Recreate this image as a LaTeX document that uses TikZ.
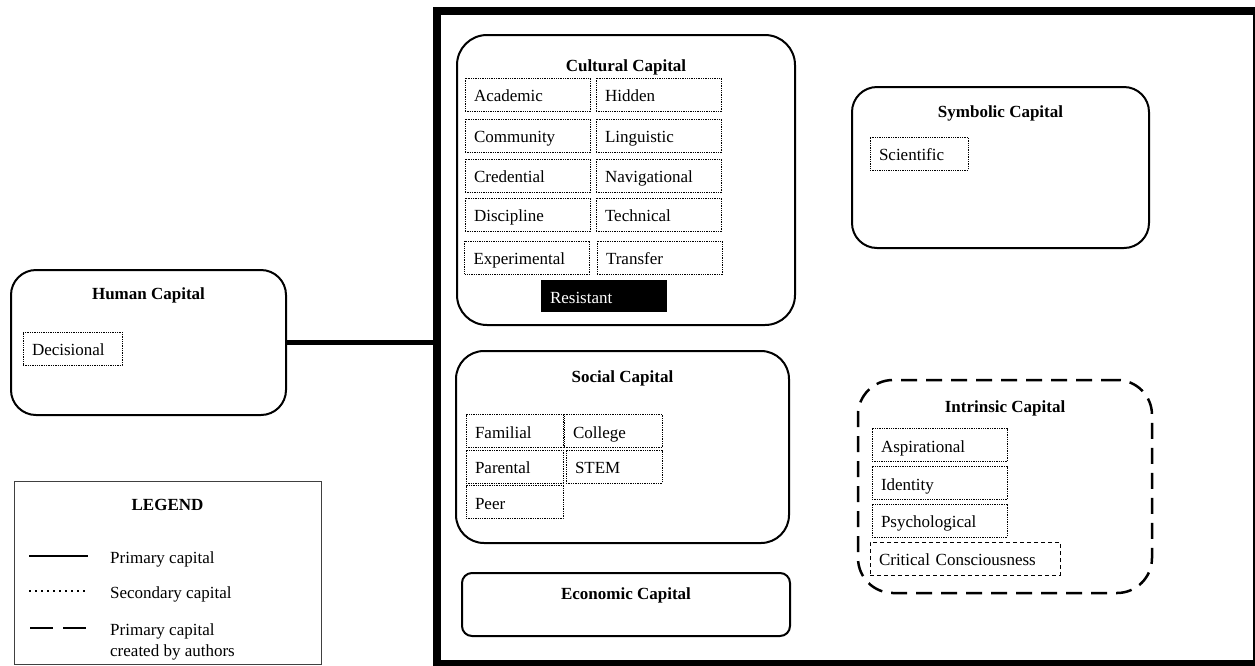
\documentclass[tikz,border=0pt]{standalone}
\usepackage{fontspec}
\setmainfont{Liberation Serif}
\begin{document}
\begin{tikzpicture}[x=1pt,y=-1pt,
  every node/.style={font=\fontsize{17}{21}\selectfont},
  capbox/.style={draw, line width=2pt, rounded corners=#1, inner sep=0pt},
  capbox/.default=28pt,
  title/.style={font=\fontsize{17}{21}\selectfont\bfseries, inner sep=0pt},
  cell/.style={draw, line width=0.9pt, dash pattern=on 1.3pt off 1pt, inner xsep=9pt, inner ysep=0pt,
    align=left, minimum height=33pt, text height=15pt, text depth=1pt},
  dcell/.style={cell, dash pattern=on 4pt off 3pt},
  blackcell/.style={fill=black, text=white, inner xsep=9pt, inner ysep=0pt, align=left, minimum height=32pt,
    text height=15pt, text depth=1pt},
  legline/.style={line width=2pt}
]
\useasboundingbox (0,0) rectangle (1255,665);
\begin{scope}
\clip (0,0) rectangle (1255,665);
% main frame
\node[draw, line width=8pt, inner sep=0pt, minimum width=820pt, minimum height=653pt] (frame) at (847,337.5) {};
\end{scope}

% Cultural capital
\node[capbox=30pt, minimum width=338pt, minimum height=290pt] (cult) at (626,180) {};
\node[title] (cultT) at (626,67) {Cultural Capital};
\node[cell, text width=107pt] (academic) at (527.5,94.5) {Academic};
\node[cell, text width=107pt] (hidden) at (658.5,94.5) {Hidden};
\node[cell, text width=107pt] (community) at (527.5,135.5) {Community};
\node[cell, text width=107pt] (linguistic) at (658.5,135.5) {Linguistic};
\node[cell, text width=107pt] (credential) at (527.5,175.5) {Credential};
\node[cell, text width=107pt] (navigational) at (658.5,175.5) {Navigational};
\node[cell, text width=107pt] (discipline) at (527.5,214.5) {Discipline};
\node[cell, text width=107pt] (technical) at (658.5,214.5) {Technical};
\node[cell, text width=107pt] (experimental) at (527,257.5) {Experimental};
\node[cell, text width=107pt] (transfer) at (659.5,257.5) {Transfer};
\node[blackcell, text width=108pt] (resistant) at (604,296) {Resistant};

% Social capital
\node[capbox=28pt, minimum width=333pt, minimum height=192pt] (social) at (622.5,447) {};
\node[title] (socialT) at (622.5,378) {Social Capital};
\node[cell, text width=79pt] (familial) at (514.5,431) {Familial};
\node[cell, text width=80pt] (college) at (613,431) {College};
\node[cell, text width=79pt] (parental) at (514.5,466.5) {Parental};
\node[cell, text width=78pt] (stem) at (614,466.5) {STEM};
\node[cell, text width=79pt] (peer) at (514.5,502) {Peer};

% Economic capital
\node[capbox=10pt, minimum width=328pt, minimum height=63pt] (econ) at (626,604.5) {};
\node[title] (econT) at (626,595) {Economic Capital};

% Symbolic capital
\node[capbox=25pt, minimum width=297pt, minimum height=161pt] (symb) at (1000.5,167.5) {};
\node[title] (symbT) at (1000.5,113) {Symbolic Capital};
\node[cell, text width=80pt] (scientific) at (919,153.5) {Scientific};

% Intrinsic capital
\node[draw, line width=2.5pt, dash pattern=on 16pt off 9pt, rounded corners=35pt, inner sep=0pt,
  minimum width=294pt, minimum height=213pt] (intr) at (1005,486.5) {};
\node[title] (intrT) at (1005,408) {Intrinsic Capital};
\node[cell, text width=117pt] (aspirational) at (939.5,445) {Aspirational};
\node[cell, text width=117pt] (identity) at (939.5,483) {Identity};
\node[cell, text width=117pt] (psychological) at (939.5,520.5) {Psychological};
\node[dcell, text width=172pt] (critical) at (965,558.5) {Critical Consciousness};

% Human capital
\node[capbox=25pt, minimum width=275pt, minimum height=145pt] (human) at (148.5,342.5) {};
\node[title] (humanT) at (148.5,295) {Human Capital};
\node[cell, text width=81pt] (decisional) at (72.5,348.5) {Decisional};

% connector
\draw[line width=5pt] (human.east) -- (human.east -| frame.west);

% Legend
\node[draw=black!75, line width=1pt, inner sep=0pt, minimum width=307pt, minimum height=183pt] (legend) at (167.5,572.5) {};
\node[title] (legendT) at (167.5,505) {LEGEND};
\coordinate (l1a) at (29,556); \coordinate (l1b) at (88,556);
\coordinate (l2a) at (29,591); \coordinate (l2b) at (88,591);
\coordinate (l3a) at (30,628); \coordinate (l3b) at (86,628);
\draw[legline] (l1a) -- (l1b);
\draw[legline, dash pattern=on 2pt off 4pt] (l2a) -- (l2b);
\draw[legline, dash pattern=on 23pt off 10pt] (l3a) -- (l3b);
\node[anchor=west, inner sep=0pt] (t1) at (110,559) {Primary capital};
\node[anchor=west, inner sep=0pt] (t2) at (110,594) {Secondary capital};
\node[anchor=west, inner sep=0pt, align=left, font=\fontsize{17}{21}\selectfont] (t3) at (110,641.5) {Primary capital\\created by authors};
\end{tikzpicture}
\end{document}
